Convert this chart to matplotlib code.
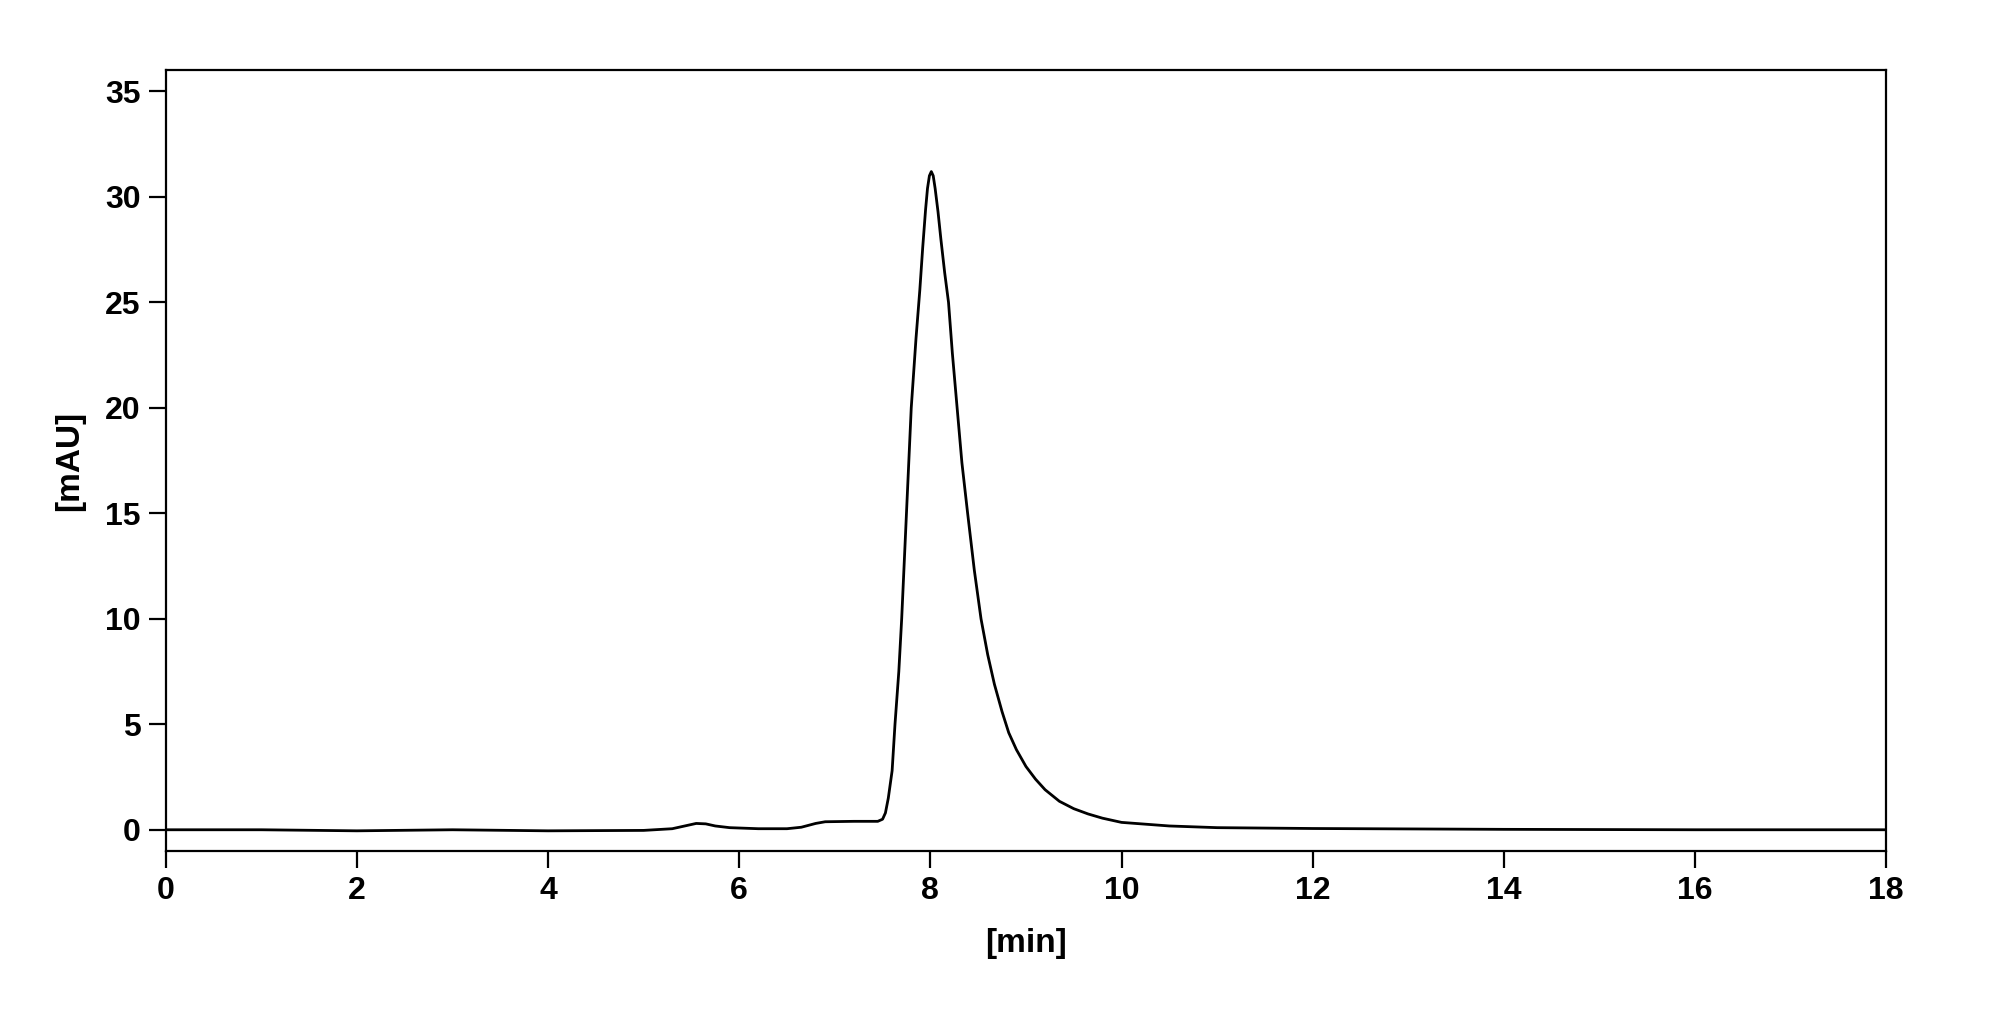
import matplotlib
matplotlib.use("Agg")
import matplotlib.pyplot as plt

# chromatogram trace
time_min = [0, 1, 2, 3, 4, 5, 5.3, 5.45, 5.55, 5.65, 5.75, 5.9, 6.2, 6.5, 6.65, 6.8, 6.9,
            7.2, 7.45, 7.5, 7.53, 7.56, 7.6, 7.63, 7.67, 7.70, 7.75, 7.8, 7.85, 7.89, 7.92,
            7.95, 7.97, 7.99, 8.01, 8.03, 8.05, 8.08, 8.11, 8.15, 8.19, 8.23, 8.28, 8.33,
            8.39, 8.46, 8.53, 8.6, 8.67, 8.75, 8.82, 8.9, 9.0, 9.1, 9.2, 9.35, 9.5,
            9.65, 9.8, 10, 10.5, 11, 12, 13, 14, 16, 18]
signal_mau = [0, 0, -0.05, 0, -0.05, -0.03, 0.05, 0.2, 0.3, 0.28, 0.18, 0.1, 0.05, 0.05, 0.12, 0.3, 0.38,
              0.4, 0.4, 0.5, 0.8, 1.5, 2.8, 5.0, 7.5, 10.0, 15.0, 20.0, 23.3, 25.6, 27.6,
              29.4, 30.4, 31.0, 31.2, 31.0, 30.4, 29.3, 28.0, 26.4, 25.0, 22.6, 20.0, 17.4,
              15.0, 12.3, 10.0, 8.3, 6.9, 5.6, 4.6, 3.8, 3.0, 2.4, 1.9, 1.35, 1.0,
              0.75, 0.55, 0.35, 0.18, 0.1, 0.06, 0.04, 0.02, 0.0, 0.0]

plt.rcParams['font.family'] = ['Liberation Sans', 'DejaVu Sans']
plt.rcParams['font.weight'] = 'bold'

fig = plt.figure(figsize=(19.96, 10.19), dpi=100)
ax = fig.add_axes([0.083, 0.165, 0.862, 0.766])
ax.plot(time_min, signal_mau, color='black', lw=2)
ax.set_xlim(0, 18)
ax.set_ylim(-1, 36)
ax.set_xticks(range(0, 19, 2))
ax.set_yticks(range(0, 36, 5))
ax.tick_params(labelsize=23, width=1.6, length=12, direction='out', pad=6)
for s in ax.spines.values():
    s.set_linewidth(1.6)
ax.set_xlabel('[min]', fontsize=24, fontweight='bold', labelpad=16)
ax.set_ylabel('[mAU]', fontsize=24, fontweight='bold', labelpad=14)
fig.savefig('out.png', dpi=100)
